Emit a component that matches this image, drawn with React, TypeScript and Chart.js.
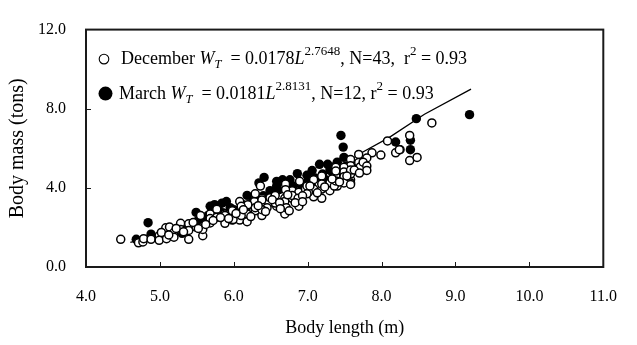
import { useEffect, useRef } from "react";
import { Chart, registerables } from "chart.js";

Chart.register(...registerables);

// December (open circles)
const decLength = [
  4.47, 4.71, 4.77, 4.78, 4.88, 4.99, 4.99, 5.08, 5.08, 5.13, 5.09, 5.19, 5.19, 5.28, 5.28, 5.39, 5.39, 5.39,
  5.49, 5.55, 5.58, 5.58, 5.68, 5.68, 5.68, 5.77, 5.77, 5.88, 5.88, 5.98, 5.98, 6.08, 6.08, 6.08, 6.18, 6.18,
  6.18, 6.29, 6.28, 6.29, 6.38, 6.38, 6.36, 6.47, 6.49, 6.58, 6.69, 6.69, 6.69, 6.79, 6.79, 6.88, 6.88,
  6.89, 6.97, 7.08, 7.08, 7.19, 7.30, 7.30, 7.40, 7.40, 7.19, 6.69, 6.79, 6.87, 7.08, 6.56, 6.56, 6.45, 6.29,
  6.29, 6.19, 6.10, 6.10, 5.88, 5.99, 6.38, 6.38,
  8.68, 8.38, 8.38, 8.48, 8.25, 8.19, 8.08, 7.99, 7.87, 7.80, 7.77, 7.69, 7.69, 7.71, 7.58, 7.58, 7.58, 7.58,
  7.49, 7.49, 7.49, 7.49, 7.38, 7.38, 7.36, 7.75, 7.80,
  6.71, 6.75, 7.01, 7.58, 7.80, 8.24, 6.70, 6.70, 6.99, 6.99, 7.19, 7.19, 7.38, 7.38, 7.58, 7.58,
  5.02, 5.12, 5.22, 5.32, 5.45, 5.52, 5.62, 5.72, 5.82, 5.93, 6.03, 6.13, 6.23, 6.33, 6.43, 6.52, 6.62, 6.73,
  6.83, 6.93, 7.03, 7.13, 7.23, 7.33, 7.43, 7.53, 7.63, 7.70, 6.63, 6.93,
];
const decMass = [
  1.40, 1.22, 1.27, 1.43, 1.40, 1.58, 1.35, 1.74, 1.98, 2.02, 1.43, 1.74, 1.51, 2.21, 1.90, 2.18, 1.40, 1.85,
  2.02, 2.60, 1.58, 1.90, 2.68, 2.23, 2.45, 2.92, 2.52, 2.68, 2.21, 2.84, 2.37, 3.31, 2.60, 2.37, 3.07, 2.68,
  2.29, 3.66, 3.31, 2.84, 3.47, 2.60, 4.09, 3.23, 3.50, 3.07, 3.47, 2.68, 3.07, 3.86, 3.47, 3.07, 3.78,
  4.33, 3.94, 4.41, 3.94, 3.94, 4.25, 3.86, 4.48, 4.09, 3.47, 3.31, 3.62, 3.47, 3.55, 3.62, 3.23, 3.00, 3.00,
  3.70, 3.15, 2.60, 3.07, 2.60, 2.40, 3.39, 2.90,
  7.28, 6.65, 5.38, 5.54, 5.93, 5.77, 6.37, 5.66, 5.77, 5.51, 4.91, 5.69, 5.28, 5.06, 5.43, 5.12, 4.41, 4.25,
  5.04, 4.80, 4.56, 4.25, 5.04, 4.64, 4.09, 5.30, 5.10,
  3.00, 2.84, 3.78, 4.17, 4.88, 5.93, 4.20, 3.90, 4.10, 3.70, 4.60, 4.20, 4.85, 4.35, 4.70, 4.90,
  1.75, 1.62, 1.95, 1.78, 2.25, 1.95, 2.15, 2.35, 2.50, 2.45, 2.70, 2.90, 2.55, 3.10, 2.80, 3.40, 3.25, 3.65,
  3.25, 3.60, 4.10, 3.75, 4.05, 4.45, 4.30, 4.60, 4.90, 4.75, 2.95, 3.30,
];

// March (filled circles)
const marLength = [
  4.68, 4.84, 4.88, 5.49, 5.68, 5.74, 5.84, 5.90, 6.18, 6.34, 6.41, 6.58, 6.66, 6.76, 6.86, 6.49, 5.79, 6.58,
  6.99, 7.06, 7.16, 7.27, 7.38, 7.34, 7.19, 7.45, 7.48, 7.49, 8.19, 8.39, 8.39, 8.47, 9.19,
  5.05, 5.20, 5.35, 5.45, 5.60, 5.70, 5.85, 6.00, 6.10, 6.25, 6.40, 6.50, 6.60, 6.80, 6.90, 7.00, 7.10, 7.20,
  7.30, 7.45, 7.52, 7.55, 7.40,
  5.15, 5.30, 5.50, 5.65, 5.95, 6.15, 6.35, 6.55, 6.75, 6.95, 7.05, 7.25,
];
const marMass = [
  1.40, 2.24, 1.66, 2.76, 3.07, 3.15, 3.23, 3.31, 3.62, 4.25, 4.53, 4.09, 4.41, 4.41, 4.72, 3.86, 3.07, 4.33,
  4.64, 4.88, 5.19, 5.19, 5.12, 4.75, 4.56, 6.65, 6.06, 5.54, 6.32, 6.41, 5.93, 7.50, 7.70,
  1.70, 1.85, 2.00, 2.10, 2.40, 2.50, 2.75, 2.90, 3.20, 3.30, 3.60, 3.70, 3.90, 4.10, 4.20, 4.30, 4.50, 4.70,
  4.90, 4.80, 5.10, 5.00, 5.30,
  1.60, 1.70, 2.30, 2.60, 3.00, 2.90, 3.40, 3.60, 3.70, 4.00, 4.10, 4.40,
];

// Fitted curve
const fitLength = [4.6, 5.0, 5.5, 6.0, 6.5, 7.0, 7.5, 7.71, 8.1, 8.58, 9.21];
const fitMass = [1.25, 1.62, 2.18, 2.82, 3.52, 4.33, 5.22, 5.74, 6.54, 7.72, 8.99];

const xTickValues = [4, 5, 6, 7, 8, 9, 10, 11];
const yTickValues = [0, 4, 8, 12];

const xTitle = "Body length (m)";
const yTitle = "Body mass (tons)";

const SERIF = '"Liberation Serif", "Times New Roman", Times, serif';

type Seg = { t: string; size: number; italic?: boolean; dy?: number };

const legendDec: Seg[] = [
  { t: "December ", size: 18 },
  { t: "W", size: 18, italic: true },
  { t: "T", size: 12.5, italic: true, dy: 4 },
  { t: "  = 0.0178", size: 18 },
  { t: "L", size: 18, italic: true },
  { t: "2.7648", size: 13, dy: -9 },
  { t: ", N=43,  r", size: 18 },
  { t: "2", size: 13, dy: -9 },
  { t: " = 0.93", size: 18 },
];
const legendMar: Seg[] = [
  { t: "March ", size: 18 },
  { t: "W", size: 18, italic: true },
  { t: "T", size: 12.5, italic: true, dy: 4 },
  { t: "  = 0.0181", size: 18 },
  { t: "L", size: 18, italic: true },
  { t: "2.8131", size: 13, dy: -9 },
  { t: ", N=12, r", size: 18 },
  { t: "2", size: 13, dy: -9 },
  { t: " = 0.93", size: 18 },
];

function drawRich(ctx: CanvasRenderingContext2D, x: number, y: number, segs: Seg[]) {
  let cx = x;
  for (const s of segs) {
    ctx.font = `${s.italic ? "italic " : ""}${s.size}px ${SERIF}`;
    ctx.fillText(s.t, cx, y + (s.dy || 0));
    cx += ctx.measureText(s.t).width;
  }
}

const framePlugin = {
  id: "frameAndLegend",
  afterDraw(chart: any) {
    const { ctx, chartArea: a, scales } = chart;
    ctx.save();
    // frame
    ctx.strokeStyle = "#1a1a1a";
    ctx.lineWidth = 2;
    ctx.strokeRect(a.left, a.top, a.right - a.left, a.bottom - a.top);
    // inward tick marks
    ctx.lineWidth = 1;
    ctx.beginPath();
    xTickValues.slice(1, -1).forEach((v) => {
      const x = Math.round(scales.x.getPixelForValue(v)) + 0.5;
      ctx.moveTo(x, a.bottom);
      ctx.lineTo(x, a.bottom - 5);
    });
    yTickValues.slice(1, -1).forEach((v) => {
      const y = Math.round(scales.y.getPixelForValue(v)) + 0.5;
      ctx.moveTo(a.left, y);
      ctx.lineTo(a.left + 5, y);
    });
    ctx.stroke();

    // legend
    ctx.textBaseline = "alphabetic";
    ctx.textAlign = "left";
    ctx.beginPath();
    ctx.arc(a.left + 18, a.top + 29.5, 4.8, 0, Math.PI * 2);
    ctx.fillStyle = "#fff";
    ctx.fill();
    ctx.strokeStyle = "#000";
    ctx.lineWidth = 1.1;
    ctx.stroke();
    ctx.fillStyle = "#000";
    drawRich(ctx, a.left + 35, a.top + 34, legendDec);
    ctx.beginPath();
    ctx.arc(a.left + 19.5, a.top + 64, 7, 0, Math.PI * 2);
    ctx.fill();
    drawRich(ctx, a.left + 33, a.top + 69.5, legendMar);
    ctx.restore();
  },
};

export default function App() {
  const ref = useRef<HTMLCanvasElement | null>(null);

  useEffect(() => {
    document.body.style.margin = "0";
    if (!ref.current) return;
    const chart = new Chart(ref.current, {
      type: "scatter",
      data: {
        datasets: [
          {
            label: "December",
            data: decLength.map((x, i) => ({ x, y: decMass[i] })),
            pointRadius: 4,
            pointBorderWidth: 1.5,
            pointBackgroundColor: "#ffffff",
            pointBorderColor: "#000000",
            showLine: false,
          },
          {
            label: "March",
            data: marLength.map((x, i) => ({ x, y: marMass[i] })),
            pointRadius: 4.7,
            pointBorderWidth: 0,
            pointBackgroundColor: "#000000",
            pointBorderColor: "#000000",
            showLine: false,
          },
          {
            type: "line",
            label: "Fit",
            data: fitLength.map((x, i) => ({ x, y: fitMass[i] })),
            borderColor: "#000000",
            borderWidth: 1.3,
            pointRadius: 0,
            tension: 0,
            fill: false,
          } as any,
        ],
      },
      options: {
        animation: false,
        responsive: false,
        devicePixelRatio: 1,
        layout: { padding: { top: 12, right: 15, left: 0, bottom: 0 } },
        plugins: { legend: { display: false }, tooltip: { enabled: false } },
        scales: {
          x: {
            type: "linear",
            min: 4,
            max: 11,
            afterFit: (s: any) => {
              s.height = 78;
            },
            afterBuildTicks: (s: any) => {
              s.ticks = xTickValues.map((v) => ({ value: v }));
            },
            ticks: {
              callback: (v: any) => Number(v).toFixed(1),
              font: { family: SERIF, size: 16 },
              color: "#000",
              padding: 20,
              maxRotation: 0,
            },
            grid: { display: false, drawTicks: false },
            border: { display: false },
            title: {
              display: true,
              text: xTitle,
              font: { family: SERIF, size: 18 },
              color: "#000",
              padding: { top: 0, bottom: 6 },
            },
          },
          y: {
            type: "linear",
            min: 0,
            max: 12,
            afterFit: (s: any) => {
              s.width = 86;
            },
            afterBuildTicks: (s: any) => {
              s.ticks = yTickValues.map((v) => ({ value: v }));
            },
            ticks: {
              callback: (v: any) => Number(v).toFixed(1),
              font: { family: SERIF, size: 16 },
              color: "#000",
              padding: 20,
            },
            grid: { display: false, drawTicks: false },
            border: { display: false },
            title: {
              display: true,
              text: yTitle,
              font: { family: SERIF, size: 20 },
              color: "#000",
              padding: { top: 6, bottom: 0 },
            },
          },
        },
      },
      plugins: [framePlugin],
    });
    return () => chart.destroy();
  }, []);

  return (
    <div style={{ position: "absolute", left: 0, top: 0, width: 637, height: 345, background: "#fff" }}>
      <canvas ref={ref} width={637} height={345} style={{ display: "block" }} />
    </div>
  );
}
